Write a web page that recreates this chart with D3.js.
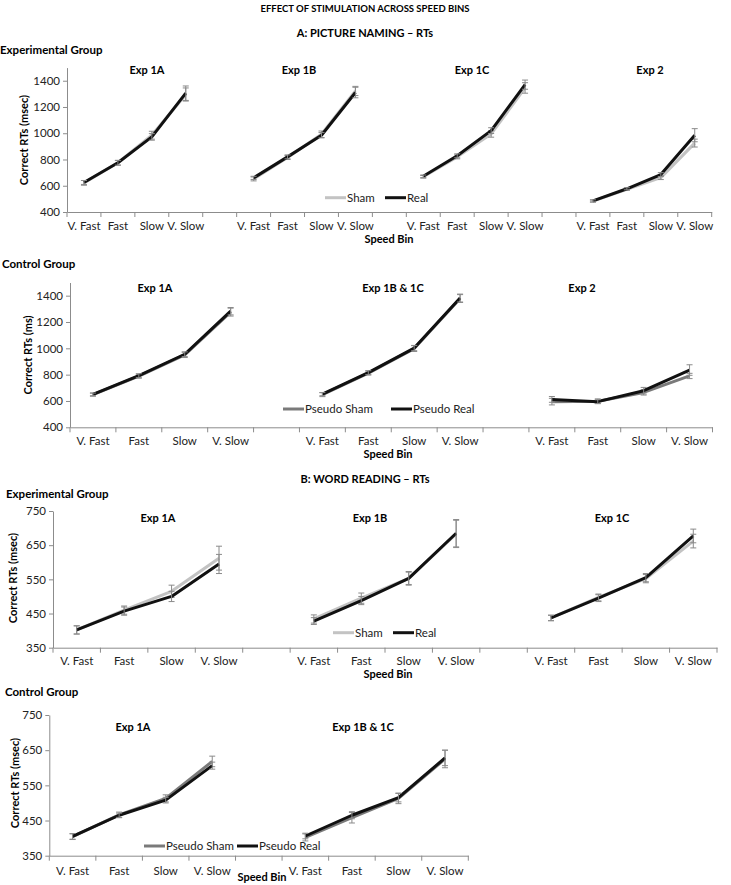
<!DOCTYPE html>
<html>
<head>
<meta charset="utf-8">
<script src="https://cdn.jsdelivr.net/npm/d3@7"></script>
<style>
  body { margin: 0; background: #fff; }
  svg { display: block; }
  text { font-family: Lato, "Open Sans", sans-serif; }
</style>
</head>
<body>
<svg id="chart" width="731" height="885"></svg>
<script>
// ---------------- DATA ----------------
const binLabels = ["V. Fast", "Fast", "Slow", "V. Slow"];

// A: Picture naming – Experimental group
const aExpGroups = ["Exp 1A", "Exp 1B", "Exp 1C", "Exp 2"];
const aExpSham = [[622, 775, 985, 1295], [652, 815, 992, 1322], [668, 820, 995, 1345], [483, 573, 662, 925]];
const aExpReal = [[625, 775, 972, 1305], [660, 820, 985, 1310], [672, 828, 1020, 1370], [485, 577, 685, 985]];
const aExpShamErr = [[18, 18, 30, 50], [15, 15, 25, 35], [10, 15, 25, 40], [8, 8, 15, 30]];
const aExpRealErr = [[15, 18, 25, 55], [12, 15, 20, 40], [10, 15, 22, 35], [8, 8, 15, 50]];

// A: Picture naming – Control group
const aCtlGroups = ["Exp 1A", "Exp 1B & 1C", "Exp 2"];
const aCtlSham = [[648, 788, 950, 1275], [648, 812, 998, 1378], [595, 598, 665, 790]];
const aCtlReal = [[650, 792, 955, 1282], [652, 815, 1002, 1382], [612, 595, 678, 835]];
const aCtlShamErr = [[12, 15, 20, 30], [15, 15, 22, 30], [25, 18, 20, 20]];
const aCtlRealErr = [[10, 15, 18, 28], [12, 15, 20, 30], [22, 15, 25, 40]];

// B: Word reading – Experimental group
const bExpGroups = ["Exp 1A", "Exp 1B", "Exp 1C"];
const bExpSham = [[402, 460, 515, 612], [434, 495, 553, 683], [437, 497, 552, 662]];
const bExpReal = [[402, 457, 500, 595], [428, 488, 553, 685], [437, 495, 555, 677]];
const bExpShamErr = [[12, 12, 18, 35], [12, 15, 20, 40], [8, 10, 12, 20]];
const bExpRealErr = [[12, 12, 15, 28], [10, 12, 18, 40], [8, 10, 12, 20]];

// B: Word reading – Control group
const bCtlGroups = ["Exp 1A", "Exp 1B & 1C"];
const bCtlSham = [[404, 466, 513, 618], [402, 458, 513, 625]];
const bCtlReal = [[405, 465, 508, 606], [406, 465, 515, 628]];
const bCtlShamErr = [[8, 8, 10, 15], [10, 15, 15, 25]];
const bCtlRealErr = [[8, 6, 8, 10], [8, 10, 12, 22]];

const yTicksA = [400, 600, 800, 1000, 1200, 1400];
const yTicksB = [350, 450, 550, 650, 750];
const headerTexts = ["EFFECT OF STIMULATION ACROSS SPEED BINS", "A: PICTURE NAMING – RTs", "B: WORD READING – RTs"];

// ---------------- LAYOUT ----------------
const colors = { sham: "#c3c3c3", pseudoSham: "#7a7a7a", real: "#111111", err: "#8a8a8a" };

const panels = [
  {
    groups: aExpGroups, sham: aExpSham, real: aExpReal, shamErr: aExpShamErr, realErr: aExpRealErr,
    names: ["Sham", "Real"], shamColor: colors.sham,
    yDomain: [400, 1500], yTicks: yTicksA, yTitle: "Correct RTs (msec)",
    x0: 67, x1: 711.7, yTop: 67.6, yBot: 212,
    titleX: [147, 299, 472, 650], titleY: 74,
    legendY: 197.7, legendX: [325, 385],
    speedBin: [389, 243], yTitlePos: [24, 140], labelOff: 18
  },
  {
    groups: aCtlGroups, sham: aCtlSham, real: aCtlReal, shamErr: aCtlShamErr, realErr: aCtlRealErr,
    names: ["Pseudo Sham", "Pseudo Real"], shamColor: colors.pseudoSham,
    yDomain: [400, 1500], yTicks: yTicksA, yTitle: "Correct RTs (ms)",
    x0: 70, x1: 712.5, yTop: 282.5, yBot: 427.3,
    titleX: [155, 393, 582], titleY: 292,
    legendY: 409, legendX: [283, 391],
    speedBin: [388, 458], yTitlePos: [28, 355], labelOff: 18
  },
  {
    groups: bExpGroups, sham: bExpSham, real: bExpReal, shamErr: bExpShamErr, realErr: bExpRealErr,
    names: ["Sham", "Real"], shamColor: colors.sham,
    yDomain: [350, 750], yTicks: yTicksB, yTitle: "Correct RTs (msec)",
    x0: 53, x1: 717, yTop: 511, yBot: 647.7,
    titleX: [158, 370, 612], titleY: 522,
    legendY: 632.7, legendX: [333, 393],
    speedBin: [388, 678], yTitlePos: [13, 578], labelOff: 17
  },
  {
    groups: bCtlGroups, sham: bCtlSham, real: bCtlReal, shamErr: bCtlShamErr, realErr: bCtlRealErr,
    names: ["Pseudo Sham", "Pseudo Real"], shamColor: colors.pseudoSham,
    yDomain: [350, 750], yTicks: yTicksB, yTitle: "Correct RTs (msec)",
    x0: 49.3, x1: 468.3, yTop: 715, yBot: 855.7,
    titleX: [133, 363], titleY: 731,
    legendY: 846, legendX: [144, 237],
    speedBin: [262, 881], yTitlePos: [15, 783], labelOff: 19
  }
];

const headers = [
  { text: headerTexts[0], x: 365, y: 12, anchor: "middle", size: 9.5 },
  { text: headerTexts[1], x: 365, y: 37, anchor: "middle", size: 11 },
  { text: "Experimental Group", x: 0, y: 54, anchor: "start", size: 11.5 },
  { text: "Control Group", x: 2, y: 268, anchor: "start", size: 11.5 },
  { text: headerTexts[2], x: 365, y: 483, anchor: "middle", size: 11 },
  { text: "Experimental Group", x: 6, y: 498, anchor: "start", size: 11.5 },
  { text: "Control Group", x: 5, y: 696, anchor: "start", size: 11.5 }
];

// ---------------- DRAW ----------------
const svg = d3.select("#chart");

svg.selectAll("text.header").data(headers).join("text")
  .attr("class", "header")
  .attr("x", d => d.x).attr("y", d => d.y)
  .attr("text-anchor", d => d.anchor)
  .attr("font-size", d => d.size).attr("font-weight", "bold").attr("fill", "#000")
  .text(d => d.text);

panels.forEach(p => {
  const g = svg.append("g");
  // category keys: 4 bins per group, one empty slot between groups
  const keys = [];
  p.groups.forEach((grp, gi) => {
    if (gi > 0) keys.push("gap" + gi);
    binLabels.forEach((b, bi) => keys.push(gi + "|" + bi));
  });
  const x = d3.scaleBand().domain(keys).range([p.x0, p.x1]).padding(0);
  const y = d3.scaleLinear().domain(p.yDomain).range([p.yBot, p.yTop]);

  // Y axis
  const yAxis = d3.axisLeft(y).tickValues(p.yTicks).tickFormat(d3.format("d"))
    .tickSize(4).tickSizeOuter(0).tickPadding(3);
  const ya = g.append("g").attr("transform", `translate(${p.x0},0)`).call(yAxis);
  ya.select(".domain").attr("stroke", "#8c8c8c");
  ya.selectAll(".tick line").attr("stroke", "#8c8c8c");
  ya.selectAll(".tick text").attr("font-size", 11.5).attr("fill", "#222")
    .attr("font-family", "Lato, 'Open Sans', sans-serif");

  // X axis: labels at band centers, ticks at band boundaries
  const xAxis = d3.axisBottom(x).tickSize(0).tickSizeOuter(0).tickPadding(0)
    .tickFormat(k => k.startsWith("gap") ? "" : binLabels[+k.split("|")[1]]);
  const xa = g.append("g").attr("transform", `translate(0,${p.yBot})`).call(xAxis);
  xa.select(".domain").attr("stroke", "#8c8c8c");
  xa.selectAll(".tick text").attr("font-size", 11.5).attr("fill", "#222")
    .attr("dy", null).attr("y", p.labelOff)
    .attr("font-family", "Lato, 'Open Sans', sans-serif");
  const bounds = keys.map(k => x(k)).concat([x(keys[keys.length - 1]) + x.bandwidth()]);
  g.append("g").selectAll("line").data(bounds).join("line")
    .attr("x1", d => d).attr("x2", d => d)
    .attr("y1", p.yBot).attr("y2", p.yBot + 5)
    .attr("stroke", "#8c8c8c");

  // series
  const seriesDefs = [
    { vals: p.sham, errs: p.shamErr, color: p.shamColor },
    { vals: p.real, errs: p.realErr, color: colors.real }
  ];
  const line = d3.line().x(d => d.x).y(d => d.y);
  seriesDefs.forEach(s => {
    s.vals.forEach((arr, gi) => {
      const pts = arr.map((v, bi) => ({
        x: x(gi + "|" + bi) + x.bandwidth() / 2,
        y: y(v), v: v, e: s.errs[gi][bi]
      }));
      g.append("path").datum(pts).attr("d", line)
        .attr("fill", "none").attr("stroke", s.color).attr("stroke-width", 3)
        .attr("stroke-linejoin", "round");
      const eb = g.append("g").selectAll("g").data(pts).join("g");
      eb.append("line").attr("x1", d => d.x).attr("x2", d => d.x)
        .attr("y1", d => y(d.v - d.e)).attr("y2", d => y(d.v + d.e))
        .attr("stroke", colors.err).attr("stroke-width", 1);
      eb.append("line").attr("x1", d => d.x - 3).attr("x2", d => d.x + 3)
        .attr("y1", d => y(d.v + d.e)).attr("y2", d => y(d.v + d.e))
        .attr("stroke", colors.err).attr("stroke-width", 1);
      eb.append("line").attr("x1", d => d.x - 3).attr("x2", d => d.x + 3)
        .attr("y1", d => y(d.v - d.e)).attr("y2", d => y(d.v - d.e))
        .attr("stroke", colors.err).attr("stroke-width", 1);
    });
  });

  // group titles
  g.selectAll("text.gt").data(p.groups).join("text")
    .attr("class", "gt")
    .attr("x", (d, i) => p.titleX[i]).attr("y", p.titleY)
    .attr("text-anchor", "middle").attr("font-size", 11).attr("font-weight", "bold")
    .text(d => d);

  // legend
  const leg = g.append("g");
  [p.shamColor, colors.real].forEach((c, i) => {
    const lx = p.legendX[i];
    leg.append("line").attr("x1", lx).attr("x2", lx + 21)
      .attr("y1", p.legendY).attr("y2", p.legendY)
      .attr("stroke", c).attr("stroke-width", 3);
    leg.append("text").attr("x", lx + 22).attr("y", p.legendY + 4)
      .attr("font-size", 11.5).attr("fill", "#222").text(p.names[i]);
  });

  // axis titles
  g.append("text").attr("x", p.speedBin[0]).attr("y", p.speedBin[1])
    .attr("text-anchor", "middle").attr("font-size", 11).attr("font-weight", "bold")
    .text("Speed Bin");
  g.append("text")
    .attr("transform", `translate(${p.yTitlePos[0] + 4},${p.yTitlePos[1]}) rotate(-90)`)
    .attr("text-anchor", "middle").attr("font-size", 11).attr("font-weight", "bold")
    .text(p.yTitle);
});
</script>
</body>
</html>
